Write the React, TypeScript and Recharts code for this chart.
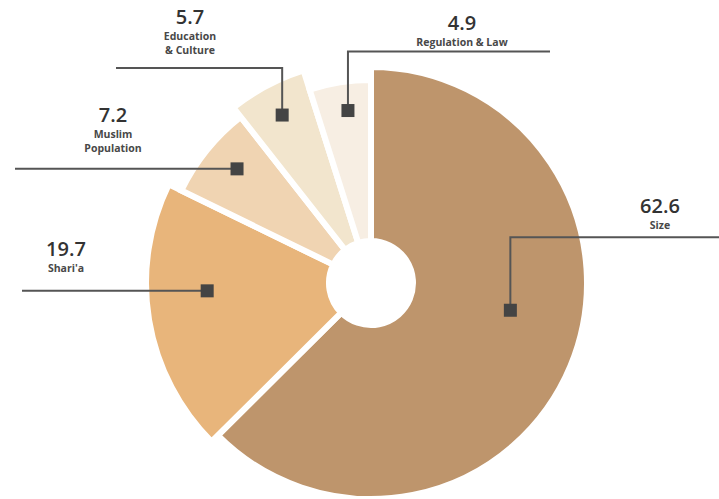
import React from 'react';
import { Cell, Pie, PieChart } from 'recharts';

document.body.style.margin = '0';

const categories = ['Size', "Shari'a", 'Muslim Population', 'Education & Culture', 'Regulation & Law'];
const values = [62.6, 19.7, 7.2, 5.7, 4.9];
const labelLines = [['Size'], ["Shari'a"], ['Muslim', 'Population'], ['Education', '& Culture'], ['Regulation & Law']];

const colors = ['#be956c', '#e8b57b', '#f0d4b2', '#f2e5cd', '#f7eee3'];
const radii = [216, 225, 211, 223, 203];

// leader layout per slice: marker radius / angle nudge, elbow rise, end x, text anchor
const leaders = [
	{ r: 142, shift: 11.5, rise: 73, endX: 719, textX: 660, textY: 213 },
	{ r: 164, shift: -6.7, rise: 0, endX: 22, textX: 66, textY: 256 },
	{ r: 176, shift: -1.5, rise: 0, endX: 15, textX: 113, textY: 122 },
	{ r: 190, shift: 0, rise: 47, endX: 116, textX: 190, textY: 24 },
	{ r: 174, shift: -1.2, rise: 59, endX: 550, textX: 462, textY: 30 },
];

const data = categories.map((name, i) => ({ name, value: values[i] }));

const CX = 371;
const CY = 283;
const RAD = Math.PI / 180;

const renderLeader = (props: any) => {
	const { cx, cy, midAngle, index } = props;
	const l = leaders[index];
	const a = (midAngle + l.shift) * RAD;
	const mx = cx + l.r * Math.cos(a);
	const my = cy - l.r * Math.sin(a);
	const ly = my - l.rise;
	const lines = labelLines[index];
	return (
		<g key={`leader-${index}`}>
			<path
				d={`M${mx},${my} L${mx},${ly} L${l.endX},${ly}`}
				fill="none"
				stroke="#555"
				strokeWidth={2}
			/>
			<rect x={mx - 6.5} y={my - 6.5} width={13} height={13} fill="#444" />
			<text
				x={l.textX}
				y={l.textY}
				textAnchor="middle"
				fontFamily="Open Sans"
				fontSize={20}
				fontWeight={600}
				fill="#333"
			>
				{values[index]}
			</text>
			{lines.map((t, k) => (
				<text
					key={k}
					x={l.textX}
					y={l.textY + 16 + k * 14}
					textAnchor="middle"
					fontFamily="Open Sans"
					fontSize={10.5}
					fontWeight={700}
					fill="#484848"
				>
					{t}
				</text>
			))}
		</g>
	);
};

const App = () => {
	return (
		<PieChart width={719} height={499} margin={{ top: 0, right: 0, bottom: 0, left: 0 }}>
			{radii.map((r, j) => (
				<Pie
					key={j}
					data={data}
					dataKey="value"
					cx={CX}
					cy={CY}
					startAngle={90}
					endAngle={-270}
					innerRadius={42}
					outerRadius={r}
					isAnimationActive={false}
					legendType="none"
				>
					{data.map((d, i) => (
						<Cell
							key={d.name}
							fill={i === j ? colors[i] : 'none'}
							stroke={i === j ? '#ffffff' : 'none'}
							strokeWidth={6}
						/>
					))}
				</Pie>
			))}
			<Pie
				data={data}
				dataKey="value"
				cx={CX}
				cy={CY}
				startAngle={90}
				endAngle={-270}
				innerRadius={42}
				outerRadius={200}
				fill="none"
				stroke="none"
				isAnimationActive={false}
				legendType="none"
				labelLine={false}
				label={renderLeader}
			/>
		</PieChart>
	);
};

export default App;
